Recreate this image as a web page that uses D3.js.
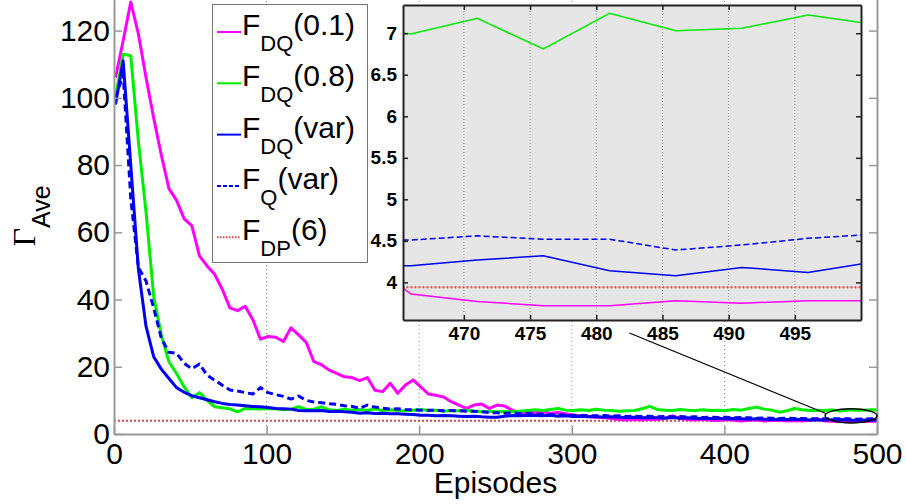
<!DOCTYPE html>
<html>
<head>
<meta charset="utf-8">
<script src="https://cdn.jsdelivr.net/npm/d3@7"></script>
<style>
  body { margin: 0; background: #fff; }
  svg { display: block; font-family: "Liberation Sans", Arial, sans-serif; }
</style>
</head>
<body>
<script>
'use strict';

// episodes where the averages were sampled
const episodes = [
  1, 6, 11, 16, 21, 26, 31, 36, 41, 46,
  51, 56, 61, 66, 71, 76, 81, 86, 91, 96,
  101, 106, 111, 116, 121, 126, 131, 136, 141, 146,
  151, 156, 161, 166, 171, 176, 181, 186, 191, 196,
  201, 206, 211, 216, 221, 226, 231, 236, 241, 246,
  251, 256, 261, 266, 271, 276, 281, 286, 291, 296,
  301, 306, 311, 316, 321, 326, 331, 336, 341, 346,
  351, 356, 361, 366, 371, 376, 381, 386, 391, 396,
  401, 406, 411, 416, 421, 426, 431, 436, 441, 446,
  451, 456, 461, 466, 471, 476, 481, 486, 491, 496,
  500
];

// F_DQ(0.1)
const fdq01 = [
  106, 117, 128.5, 119, 106, 94, 83, 73, 69.5, 64,
  62, 53, 50, 47.5, 43, 37.5, 36.7, 38, 34, 28.2,
  29, 28.8, 27.5, 31.6, 29.5, 27.2, 21.5, 20.6, 19, 18,
  17, 16.8, 15.9, 16.8, 13, 12.6, 15.1, 12.1, 14.6, 16.1,
  14, 11.9, 11.5, 11, 9.6, 8.6, 7.6, 8.6, 8.9, 7.6,
  8.6, 8.3, 7.1, 6.3, 6.5, 6.3, 6.6, 6.2, 6.4, 6.0,
  5.6, 5.4, 5.2, 5.0, 4.9, 4.6, 4.3, 4.2, 4.4, 4.2,
  4.4, 4.3, 4.8, 5.4, 4.6, 4.3, 4.2, 4.4, 4.1, 4.0,
  4.3, 4.1, 3.9, 4.1, 4.2, 3.9, 4.0, 4.1, 3.9, 4.0,
  3.9, 4.1, 4.45, 3.86, 3.77, 3.72, 3.72, 3.78, 3.75, 3.78,
  3.78
];

// F_DQ(0.8)
const fdq08 = [
  100, 113, 112.5, 87, 66, 41, 29.5, 21.5, 18, 14,
  10.8, 12.3, 10, 8.1, 7.8, 7.5, 6.6, 7.6, 7.5, 7.4,
  7.6, 7.5, 7.2, 7.4, 8.1, 7.3, 7.4, 8.1, 7.2, 7.0,
  7.4, 7.1, 7.3, 7.0, 7.5, 7.0, 7.2, 7.0, 6.9, 7.1,
  7.3, 7.0, 7.1, 6.8, 7.0, 6.9, 7.1, 6.8, 6.6, 6.8,
  6.6, 6.7, 6.6, 6.8, 7.0, 7.2, 7.0, 7.3, 7.6, 7.1,
  7.0, 7.2, 7.0, 7.35, 7.1, 7.0, 6.8, 6.9, 7.0, 7.5,
  8.2, 7.3, 7.1, 7.0, 7.3, 7.1, 7.0, 7.2, 7.0, 7.1,
  7.0, 7.3, 7.1, 7.6, 8.0, 7.4, 7.1, 6.5, 6.9, 7.6,
  7.2, 7.0, 7.1, 6.99, 7.18, 6.81, 7.24, 7.03, 7.06, 7.22,
  7.13
];

// F_DQ(var)
const fdqVar = [
  98, 111, 80, 49, 32, 23, 19.3, 16.5, 13.8, 12.4,
  11.4, 10.8, 10.2, 9.6, 9.1, 8.8, 8.6, 8.4, 8.2, 8.1,
  7.9, 7.6, 7.5, 7.4, 7.0, 6.9, 6.9, 7.0, 6.7, 6.8,
  6.6, 6.5, 6.2, 6.3, 6.1, 6.2, 6.0, 6.0, 5.9, 5.8,
  5.6, 5.6, 5.4, 5.5, 5.4, 5.3, 5.2, 5.3, 5.1, 5.0,
  5.0, 5.3, 5.5, 5.4, 5.6, 5.5, 5.4, 5.6, 5.3, 5.4,
  5.2, 5.3, 5.1, 5.2, 5.0, 5.1, 5.0, 4.9, 5.0, 4.8,
  4.9, 4.8, 4.7, 4.9, 4.7, 4.8, 4.6, 4.7, 4.6, 4.7,
  4.5, 4.6, 4.5, 4.4, 4.5, 4.4, 4.3, 4.4, 4.3, 4.4,
  4.3, 4.2, 4.2, 4.2, 4.27, 4.32, 4.14, 4.08, 4.18, 4.12,
  4.22
];

// F_Q(var)
const fqVar = [
  100, 107, 70, 49.5, 45.5, 37.5, 28.5, 24.3, 24, 21,
  19.4, 20.8, 17.5, 16, 14.5, 13.1, 12.8, 12.3, 11.9, 13.8,
  12.3, 11.7, 11.2, 10.4, 11.3, 10, 9.5, 9.3, 9.0, 8.8,
  8.4, 8.2, 7.7, 8.6, 8.0, 7.7, 7.4, 7.5, 7.3, 7.2,
  7.1, 7.1, 7.0, 6.9, 7.0, 6.9, 6.8, 6.8, 6.6, 6.4,
  6.3, 6.2, 6.3, 6.1, 6.2, 6.0, 5.9, 5.8, 5.7, 5.6,
  5.6, 5.5, 5.5, 5.4, 5.5, 5.3, 5.4, 5.2, 5.3, 5.2,
  5.3, 5.1, 5.2, 5.1, 5.2, 5.0, 5.1, 4.9, 5.0, 4.9,
  5.0, 4.8, 4.9, 4.8, 4.7, 4.8, 4.7, 4.6, 4.7, 4.6,
  4.6, 4.5, 4.5, 4.51, 4.56, 4.52, 4.52, 4.39, 4.45, 4.53,
  4.57
];

// F_DP(6) is a constant level
const fdpEpisodes = [0, 500];
const fdpLevel = 3.94;

// tick labels
const xTicks = [0, 100, 200, 300, 400, 500];
const yTicks = [0, 20, 40, 60, 80, 100, 120];
const gridTicks = [100, 200, 300, 400];
const insetXTicks = [470, 475, 480, 485, 490, 495];
const insetYTicks = [4, 4.5, 5, 5.5, 6, 6.5, 7];

// legend text
const legendSub = ["DQ", "DQ", "DQ", "Q", "DP"];
const legendArg = ["(0.1)", "(0.8)", "(var)", "(var)", "(6)"];

(function () {
  const svg = d3.select('body').append('svg')
    .attr('width', 906)
    .attr('height', 504);

  const x = d3.scaleLinear().domain([0, 500]).range([114, 877]);
  const y = d3.scaleLinear().domain([0, 130]).range([434, -3]);

  const styles = [
    { vals: fdq01, color: '#ff00ff', dash: null },
    { vals: fdq08, color: '#00ee00', dash: null },
    { vals: fdqVar, color: '#0000ee', dash: null },
    { vals: fqVar, color: '#0000ee', dash: '7,4' }
  ];
  const dpColor = '#dd4444';

  // vertical dotted grid
  svg.append('g').selectAll('line')
    .data(gridTicks)
    .enter().append('line')
    .attr('x1', d => x(d)).attr('x2', d => x(d))
    .attr('y1', y(130)).attr('y2', y(0))
    .attr('stroke', '#999')
    .attr('stroke-width', 1)
    .attr('stroke-dasharray', '1,3');

  // main curves
  const line = d3.line()
    .x(d => x(d[0]))
    .y(d => y(d[1]));

  svg.append('path')
    .datum(fdpEpisodes.map(e => [e, fdpLevel]))
    .attr('fill', 'none')
    .attr('stroke', dpColor)
    .attr('stroke-width', 2)
    .attr('stroke-dasharray', '2,2')
    .attr('d', line);

  styles.forEach(s => {
    svg.append('path')
      .datum(episodes.map((e, i) => [e, s.vals[i]]))
      .attr('fill', 'none')
      .attr('stroke', s.color)
      .attr('stroke-width', 3)
      .attr('stroke-linejoin', 'round')
      .attr('stroke-dasharray', s.dash)
      .attr('d', line);
  });

  // axes
  function styleAxis(g, color, size) {
    g.select('.domain').attr('stroke', color).attr('stroke-width', 2);
    g.selectAll('.tick line').attr('stroke', color).attr('stroke-width', 1.5);
    g.selectAll('.tick text')
      .attr('fill', '#000')
      .style('font-size', size)
      .style('font-family', '"Liberation Sans", Arial, sans-serif');
  }

  svg.append('g')
    .attr('transform', 'translate(' + x(0) + ',0)')
    .call(d3.axisLeft(y).tickValues(yTicks).tickSize(-8).tickSizeOuter(0).tickPadding(4))
    .call(g => styleAxis(g, '#999', '30px'));

  svg.append('g')
    .attr('transform', 'translate(' + x(500) + ',0)')
    .call(d3.axisRight(y).tickValues(yTicks).tickSize(-8).tickSizeOuter(0).tickFormat(''))
    .call(g => styleAxis(g, '#999', '30px'));

  svg.append('g')
    .attr('transform', 'translate(0,' + y(0) + ')')
    .call(d3.axisBottom(x).tickValues(xTicks).tickSize(-8).tickSizeOuter(0).tickPadding(9))
    .call(g => styleAxis(g, '#999', '30px'));

  // axis labels
  svg.append('text')
    .attr('x', (x(0) + x(500)) / 2)
    .attr('y', 493)
    .attr('text-anchor', 'middle')
    .style('font-size', '30px')
    .text('Episodes');

  const yLab = svg.append('text')
    .attr('transform', 'translate(35,216)rotate(-90)')
    .attr('text-anchor', 'middle');
  yLab.append('tspan')
    .style('font-family', '"Liberation Serif", "Times New Roman", serif')
    .style('font-size', '32px')
    .text('\u0393');
  yLab.append('tspan')
    .attr('dy', 15)
    .style('font-size', '25px')
    .text('Ave');

  // legend
  const legend = svg.append('g');
  legend.append('rect')
    .attr('x', 212.5).attr('y', 4.5)
    .attr('width', 155).attr('height', 258)
    .attr('fill', '#fff')
    .attr('stroke', '#777')
    .attr('stroke-width', 1);

  const legendStyles = styles.concat([{ color: dpColor, dash: '2,2' }]);
  legendStyles.forEach((s, i) => {
    const ly = 32 + i * 51.3;
    legend.append('line')
      .attr('x1', 217).attr('x2', 241)
      .attr('y1', ly).attr('y2', ly)
      .attr('stroke', s.color)
      .attr('stroke-width', 2)
      .attr('stroke-dasharray', s.dash === '7,4' ? '4,2' : (s.dash ? '1.5,1.5' : null));
    const t = legend.append('text')
      .attr('x', 242)
      .attr('y', ly + 3)
      .style('font-size', '30px');
    t.append('tspan').text('F');
    t.append('tspan').attr('dy', 16).style('font-size', '22px').text(legendSub[i]);
    t.append('tspan').attr('dy', -16).text(legendArg[i]);
  });

  // inset zoom on the last episodes
  const xi = d3.scaleLinear().domain([465.4, 500]).range([403, 861]);
  const yi = d3.scaleLinear().domain([3.547, 7.34]).range([320, 5]);
  const inset = svg.append('g');

  inset.append('rect')
    .attr('x', xi(465.4)).attr('y', yi(7.34))
    .attr('width', xi(500) - xi(465.4))
    .attr('height', yi(3.547) - yi(7.34))
    .attr('fill', '#e6e6e6');

  inset.append('clipPath').attr('id', 'insetClip')
    .append('rect')
    .attr('x', xi(465.4)).attr('y', yi(7.34))
    .attr('width', xi(500) - xi(465.4))
    .attr('height', yi(3.547) - yi(7.34));

  inset.append('g').selectAll('line')
    .data(insetXTicks)
    .enter().append('line')
    .attr('x1', d => xi(d)).attr('x2', d => xi(d))
    .attr('y1', yi(7.34)).attr('y2', yi(3.547))
    .attr('stroke', '#999')
    .attr('stroke-width', 1)
    .attr('stroke-dasharray', '1,2');

  const lineI = d3.line()
    .x(d => xi(d[0]))
    .y(d => yi(d[1]));
  const plotI = inset.append('g').attr('clip-path', 'url(#insetClip)');

  plotI.append('path')
    .datum(fdpEpisodes.map(e => [e, fdpLevel]))
    .attr('fill', 'none')
    .attr('stroke', dpColor)
    .attr('stroke-width', 2)
    .attr('stroke-dasharray', '2,2')
    .attr('d', lineI);

  styles.forEach(s => {
    plotI.append('path')
      .datum(episodes.map((e, i) => [e, s.vals[i]]))
      .attr('fill', 'none')
      .attr('stroke', s.color)
      .attr('stroke-width', 1.5)
      .attr('stroke-dasharray', s.dash ? '6,3' : null)
      .attr('d', lineI);
  });

  const fmt = d3.format('~g');
  inset.append('g')
    .attr('transform', 'translate(' + xi(465.4) + ',0)')
    .call(d3.axisLeft(yi).tickValues(insetYTicks).tickSize(-5).tickSizeOuter(0).tickPadding(6).tickFormat(fmt))
    .call(g => styleAxis(g, '#222', '19px'));
  inset.append('g')
    .attr('transform', 'translate(' + xi(500) + ',0)')
    .call(d3.axisRight(yi).tickValues(insetYTicks).tickSize(-5).tickSizeOuter(0).tickFormat(''))
    .call(g => styleAxis(g, '#222', '19px'));
  inset.append('g')
    .attr('transform', 'translate(0,' + yi(3.547) + ')')
    .call(d3.axisBottom(xi).tickValues(insetXTicks).tickSize(-5).tickSizeOuter(0).tickPadding(7).tickFormat(fmt))
    .call(g => styleAxis(g, '#222', '19px'));
  inset.append('g')
    .attr('transform', 'translate(0,' + yi(7.34) + ')')
    .call(d3.axisTop(xi).tickValues(insetXTicks).tickSize(-5).tickSizeOuter(0).tickFormat(''))
    .call(g => styleAxis(g, '#222', '19px'));
  inset.selectAll('.tick text').style('font-weight', 'bold');

  // ellipse marking the zoomed region and the connector
  svg.append('ellipse')
    .attr('cx', x(483)).attr('cy', y(5.4))
    .attr('rx', x(500) - x(483))
    .attr('ry', y(3.3) - y(5.4))
    .attr('fill', 'none')
    .attr('stroke', '#000')
    .attr('stroke-width', 1.5);

  svg.append('line')
    .attr('x1', xi(482.5)).attr('y1', yi(3.547) + 13)
    .attr('x2', x(466.5)).attr('y2', y(6.1))
    .attr('stroke', '#000')
    .attr('stroke-width', 1.2);
})();
</script>
</body>
</html>
